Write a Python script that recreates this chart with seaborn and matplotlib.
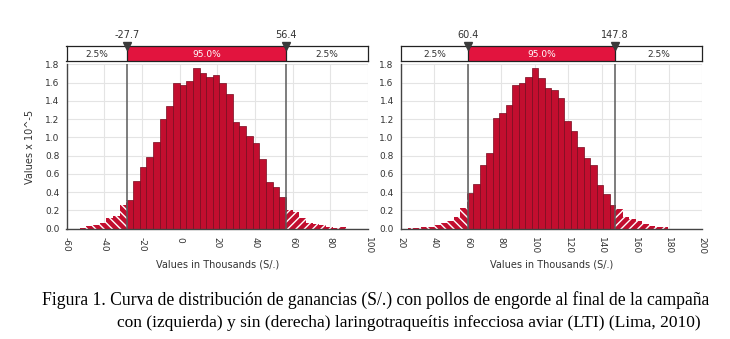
import numpy as np
import pandas as pd
import matplotlib
matplotlib.use("Agg")
import matplotlib.pyplot as plt
import seaborn as sns

# ── data (bar heights are values x 10^-5) ───────────────────────────────────
left_bin_start = -52.95
left_bin_width = 3.53
left_heights = [0.011, 0.026, 0.036, 0.058, 0.12, 0.14, 0.26, 0.31, 0.52, 0.68,
                0.79, 0.95, 1.20, 1.34, 1.60, 1.57, 1.62, 1.76, 1.71, 1.66,
                1.68, 1.60, 1.48, 1.17, 1.12, 1.01, 0.94, 0.76, 0.51, 0.46,
                0.35, 0.20, 0.18, 0.12, 0.066, 0.05, 0.04, 0.018, 0.011, 0.015]
left_lo, left_hi = -27.7, 56.4
left_xticks = [-60, -40, -20, 0, 20, 40, 60, 80, 100]

right_bin_start = 24.6
right_bin_width = 3.88
right_heights = [0.011, 0.011, 0.015, 0.02, 0.044, 0.058, 0.088, 0.124, 0.23, 0.39,
                 0.49, 0.70, 0.83, 1.21, 1.27, 1.35, 1.57, 1.60, 1.66, 1.76,
                 1.65, 1.54, 1.52, 1.43, 1.18, 1.07, 0.89, 0.77, 0.70, 0.48,
                 0.38, 0.26, 0.22, 0.13, 0.11, 0.085, 0.055, 0.03, 0.022, 0.02]
right_lo, right_hi = 60.4, 147.8
right_xticks = [20, 40, 60, 80, 100, 120, 140, 160, 180, 200]

y_ticks = [0.0, 0.2, 0.4, 0.6, 0.8, 1.0, 1.2, 1.4, 1.6, 1.8]
pct_labels = ["2.5%", "95.0%", "2.5%"]

caption_1 = ("Figura 1. Curva de distribución de ganancias (S/.) con pollos de engorde "
             "al final de la campaña")
caption_2 = ("con (izquierda) y sin (derecha) laringotraqueítis infecciosa aviar (LTI) "
             "(Lima, 2010)")

BAR_RED = "#C20E2F"
BAR_EDGE = "#760A1E"
BAND_RED = "#E2143E"
GRID = "#E4E4E4"

sns.set_style("white")
plt.rcParams["font.family"] = ["DejaVu Sans"]
plt.rcParams["hatch.linewidth"] = 1.0

W, H = 730, 339
fig = plt.figure(figsize=(W / 100, H / 100), dpi=100)


def px_axes(x0, y0, x1, y1):
    # pixel box (top-left origin) -> figure axes
    return fig.add_axes([x0 / W, 1 - y1 / H, (x1 - x0) / W, (y1 - y0) / H])


def draw_panel(ax, bar_ax, start, width, heights, lo, hi, xticks, ylabel):
    heights = np.asarray(heights)
    edges = start + width * np.arange(len(heights) + 1)
    # split the bins that contain the delimiters so the tails can be hatched
    cut = np.unique(np.concatenate([edges, [lo, hi]]))
    centers = (cut[:-1] + cut[1:]) / 2
    idx = np.searchsorted(edges, centers) - 1
    df = pd.DataFrame({"value": centers, "density": heights[idx]})
    sns.histplot(data=df, x="value", weights="density", bins=cut.tolist(), ax=ax,
                 color=BAR_RED, alpha=1, edgecolor=BAR_EDGE, linewidth=0.5)
    for p in ax.patches:
        left, right = p.get_x(), p.get_x() + p.get_width()
        if right <= lo + 1e-6:
            p.set_hatch("\\\\\\\\")
            p.set_edgecolor("white")
            p.set_linewidth(0)
        elif left >= hi - 1e-6:
            p.set_hatch("////")
            p.set_edgecolor("white")
            p.set_linewidth(0)

    ax.set_xlim(xticks[0], xticks[-1])
    ax.set_ylim(0, 1.8)
    ax.set_xticks(xticks)
    ax.set_yticks(y_ticks)
    ax.set_yticklabels([f"{v:.1f}" for v in y_ticks])
    ax.set_xticklabels([str(v) for v in xticks], rotation=270, va="top", ha="center")
    ax.grid(True, color=GRID, lw=0.8)
    ax.set_axisbelow(True)
    for s in ("top", "right"):
        ax.spines[s].set_visible(False)
    for s in ("left", "bottom"):
        ax.spines[s].set_color("#444444")
        ax.spines[s].set_linewidth(1.0)
    ax.tick_params(axis="both", labelsize=6.5, length=3, width=0.8,
                   color="#444444", labelcolor="#333333", pad=2)
    ax.tick_params(axis="x", pad=3)
    ax.set_xlabel("Values in Thousands (S/.)", fontsize=7, color="#333333", labelpad=4)
    ax.set_ylabel(ylabel, fontsize=7, color="#333333", labelpad=7)
    for v in (lo, hi):
        ax.axvline(v, color="#5A5A5A", lw=1.1, zorder=5)

    # percentile strip above the histogram
    bar_ax.set_xlim(xticks[0], xticks[-1])
    bar_ax.set_ylim(0, 1)
    bar_ax.axvspan(lo, hi, color=BAND_RED, lw=0)
    for v in (lo, hi):
        bar_ax.axvline(v, color="#222222", lw=0.9)
    bar_ax.set_xticks([])
    bar_ax.set_yticks([])
    for s in bar_ax.spines.values():
        s.set_color("#222222")
        s.set_linewidth(0.9)
    mids = [(xticks[0] + lo) / 2, (lo + hi) / 2, (hi + xticks[-1]) / 2]
    for m, t, c in zip(mids, pct_labels, ["#333333", "white", "#333333"]):
        bar_ax.text(m, 0.45, t, ha="center", va="center", fontsize=6.5, color=c)
    for v in (lo, hi):
        bar_ax.plot([v], [1.0], marker="v", ms=5.5, color="#3A3A3A", clip_on=False, zorder=6)
        bar_ax.text(v, 1.75, f"{v:.1f}", ha="center", va="center", fontsize=7,
                    color="#333333", clip_on=False)


ax_l = px_axes(66.5, 64.3, 368, 228.7)
bar_l = px_axes(66.5, 46, 368, 61.3)
draw_panel(ax_l, bar_l, left_bin_start, left_bin_width, left_heights,
           left_lo, left_hi, left_xticks, "Values x 10^-5")

ax_r = px_axes(400.7, 64.3, 702.3, 228.7)
bar_r = px_axes(400.7, 46, 702.3, 61.3)
draw_panel(ax_r, bar_r, right_bin_start, right_bin_width, right_heights,
           right_lo, right_hi, right_xticks, "")

serif = ["Liberation Serif", "DejaVu Serif"]
fig.text(42 / W, 1 - 300 / H, caption_1, ha="left", va="center", fontsize=12.7,
         family=serif, color="black")
fig.text(117 / W, 1 - 323 / H, caption_2, ha="left", va="center", fontsize=12.5,
         family=serif, color="black")

fig.savefig("out.png", dpi=100)
